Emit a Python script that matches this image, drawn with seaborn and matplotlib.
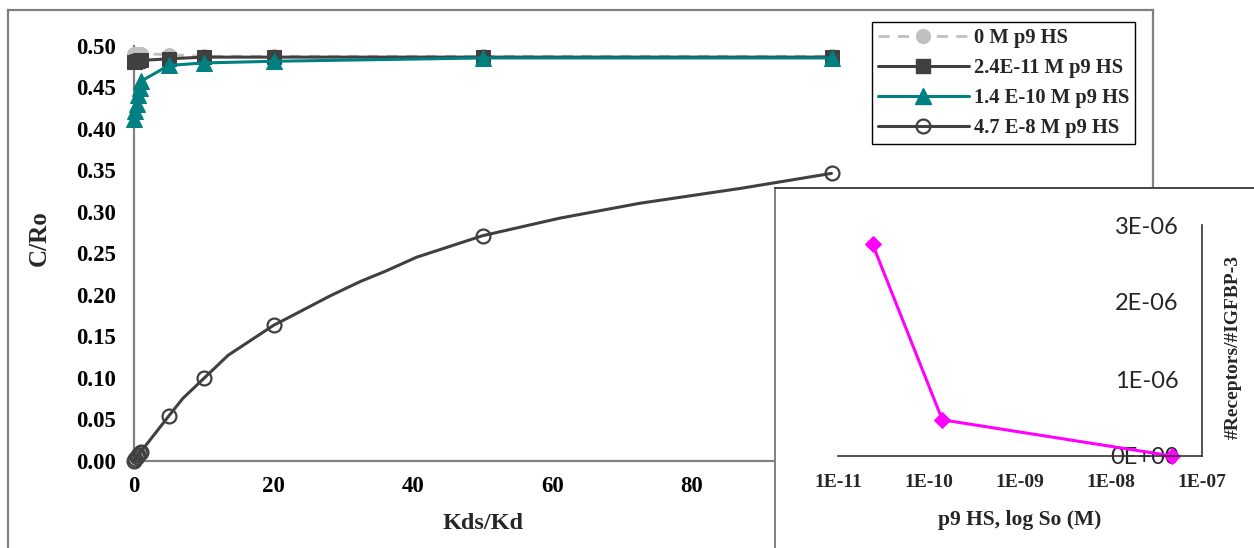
import matplotlib
matplotlib.use("Agg")
import matplotlib.pyplot as plt
import seaborn as sns
from matplotlib.lines import Line2D
from matplotlib.ticker import FixedLocator, FixedFormatter, NullLocator

# ---- main panel: fraction of receptors occupied vs Kds/Kd ----
kds = [0, 0.2, 0.4, 0.6, 0.8, 1, 5, 10, 20, 50, 100]
c_0M = [0.490, 0.490, 0.490, 0.490, 0.490, 0.490, 0.489, 0.487, 0.487, 0.487, 0.487]
c_24e11 = [0.480, 0.480, 0.481, 0.481, 0.482, 0.482, 0.484, 0.486, 0.486, 0.486, 0.486]
c_14e10 = [0.412, 0.421, 0.430, 0.440, 0.449, 0.457, 0.476, 0.479, 0.481, 0.485, 0.485]
c_47e8 = [0.000, 0.002, 0.004, 0.007, 0.009, 0.011, 0.054, 0.099, 0.163, 0.271, 0.346]

# smoothed trace drawn through the 4.7E-8 M points
curve_kds = [0, 0.2, 0.4, 0.6, 0.8, 1, 5, 7, 10, 13.5, 20, 23, 28, 32.5, 36, 40.5,
             50, 61, 72.5, 87, 100]
curve_c = [0.000, 0.002, 0.004, 0.007, 0.009, 0.011, 0.054, 0.075, 0.099, 0.127,
           0.163, 0.176, 0.198, 0.216, 0.228, 0.245, 0.271, 0.292, 0.310, 0.328, 0.346]

series_labels = ["0 M p9 HS", "2.4E-11 M p9 HS", "1.4 E-10 M p9 HS", "4.7 E-8 M p9 HS"]
main_xticks = [0, 20, 40, 60, 80, 100, 120]
main_xlabels = ["0", "20", "40", "60", "80", "", ""]
main_yticks = [0.00, 0.05, 0.10, 0.15, 0.20, 0.25, 0.30, 0.35, 0.40, 0.45, 0.50]

# ---- inset: receptors per IGFBP-3 vs p9 HS concentration ----
so_conc = [2.4e-11, 1.4e-10, 4.7e-8]
receptor_ratio = [2.75e-6, 0.47e-6, 0.0]
inset_xticks = [1e-11, 1e-10, 1e-9, 1e-8, 1e-7]
inset_xlabels = ["1E-11", "1E-10", "1E-09", "1E-08", "1E-07"]
inset_yticks = [0, 1e-6, 2e-6, 3e-6]
inset_ylabels = ["0E+00", "1E-06", "2E-06", "3E-06"]

sns.set_theme(style="white")
plt.rcParams["font.family"] = ["Liberation Serif", "DejaVu Serif"]
plt.rcParams["font.weight"] = "bold"

W, H = 1254, 548
fig = plt.figure(figsize=(W / 100, H / 100), dpi=100)
fig.patch.set_facecolor("white")


def fx(px):
    return px / W


def fy(py):
    return 1 - py / H


# outer chart frame
frame = fig.add_axes([fx(8), -0.05, fx(1153) - fx(8), fy(10) + 0.05])
frame.set_xticks([])
frame.set_yticks([])
for side in ("left", "top", "right"):
    frame.spines[side].set_color("#808080")
    frame.spines[side].set_linewidth(1.6)
frame.spines["bottom"].set_visible(False)

# main axes
ax = fig.add_axes([fx(134), fy(460.7), fx(971) - fx(134), fy(45.5) - fy(460.7)])
ax.patch.set_alpha(0)

dark = "#404040"
teal = "#008080"
light = "#c0c0c0"

styles = [
    dict(color=light, linestyle=(0, (4, 3)), linewidth=2.0, marker="o",
         markersize=10, markerfacecolor=light, markeredgecolor=light),
    dict(color=dark, linestyle="-", linewidth=2.2, marker="s",
         markersize=10.5, markerfacecolor=dark, markeredgecolor=dark),
    dict(color=teal, linestyle="-", linewidth=2.2, marker="^",
         markersize=11, markerfacecolor=teal, markeredgecolor=teal),
    dict(color=dark, linestyle="-", linewidth=2.2, marker="o",
         markersize=10, markerfacecolor="none", markeredgecolor=dark,
         markeredgewidth=1.6),
]

for yvals, st in zip([c_0M, c_24e11, c_14e10], styles[:3]):
    sns.lineplot(x=kds, y=yvals, ax=ax, estimator=None, sort=False,
                 clip_on=False, zorder=3, legend=False, **st)

marker_idx = [i for i, k in enumerate(curve_kds) if k in kds]
sns.lineplot(x=curve_kds, y=curve_c, ax=ax, estimator=None, sort=False,
             clip_on=False, zorder=3, legend=False, markevery=marker_idx,
             **styles[3])

ax.set_xlim(0, 120)
ax.set_ylim(0, 0.5)
ax.xaxis.set_major_locator(FixedLocator(main_xticks))
ax.yaxis.set_major_locator(FixedLocator(main_yticks))
ax.set_xticklabels(main_xlabels)
ax.set_yticklabels([f"{v:.2f}" for v in main_yticks])
for side in ("top", "right"):
    ax.spines[side].set_visible(False)
for side in ("left", "bottom"):
    ax.spines[side].set_color("#808080")
    ax.spines[side].set_linewidth(1.6)
ax.tick_params(axis="both", which="major", direction="inout", length=8,
               width=1.2, color="#555555", labelsize=16.5, labelcolor="black")
ax.tick_params(axis="x", pad=7)
ax.tick_params(axis="y", pad=9)
ax.set_xlabel("Kds/Kd", fontsize=17.5, fontweight="bold")
ax.set_ylabel("C/Ro", fontsize=18, fontweight="bold")
ax.xaxis.set_label_coords((483 - 134) / 837, -(513 - 460.7) / 415.2)
ax.yaxis.set_label_coords((51 - 134) / 837, (460.7 - 238) / 415.2)

handles = [Line2D([], [], **st) for st in styles]
fig.legend(handles, series_labels, loc="upper left",
           bbox_to_anchor=(fx(872), fy(22)), borderaxespad=0,
           frameon=True, fancybox=False, edgecolor="black", framealpha=1,
           handlelength=4.4, handletextpad=0.25, labelspacing=0.48,
           borderpad=0.3, prop=dict(family="Liberation Serif", weight="bold", size=14.8))

# inset frame
ibox = fig.add_axes([fx(775), -0.05, 1.05 - fx(775), fy(188) + 0.05])
ibox.set_facecolor("white")
ibox.set_xticks([])
ibox.set_yticks([])
ibox.spines["left"].set_color("#808080")
ibox.spines["top"].set_color("#444444")
for side in ("left", "top"):
    ibox.spines[side].set_linewidth(1.4)
for side in ("right", "bottom"):
    ibox.spines[side].set_visible(False)

# inset axes
ins = fig.add_axes([fx(838), fy(456), fx(1202) - fx(838), fy(225) - fy(456)])
ins.patch.set_alpha(0)
sns.lineplot(x=so_conc, y=receptor_ratio, ax=ins, estimator=None, sort=False,
             color="#ff00ff", linewidth=2.2, marker="D", markersize=8,
             markerfacecolor="#ff00ff", markeredgecolor="#ff00ff",
             clip_on=False, zorder=2, legend=False)
ins.set_xscale("log")
ins.set_xlim(1e-11, 1e-7)
ins.set_ylim(0, 3e-6)
ins.xaxis.set_major_locator(FixedLocator(inset_xticks))
ins.xaxis.set_major_formatter(FixedFormatter(inset_xlabels))
ins.xaxis.set_minor_locator(NullLocator())
ins.yaxis.set_major_locator(FixedLocator(inset_yticks))
ins.yaxis.set_major_formatter(FixedFormatter(inset_ylabels))
ins.spines["top"].set_visible(False)
ins.spines["right"].set_visible(False)
ins.spines["left"].set_position(("axes", 1.0))
for side in ("left", "bottom"):
    ins.spines[side].set_color("#333333")
    ins.spines[side].set_linewidth(1.2)
ins.tick_params(axis="x", direction="inout", length=8, width=1.1,
                color="#333333", labelsize=14, pad=9)
ins.tick_params(axis="y", direction="out", length=6, width=1.1,
                color="#333333", pad=11)
for lab in ins.get_yticklabels():
    lab.set_fontfamily("Lato")
    lab.set_fontweight("normal")
    lab.set_fontsize(17)
ins.set_xlabel("p9 HS, log So (M)", fontsize=15.5, fontweight="bold")
ins.xaxis.set_label_coords(0.5, -(510 - 456) / 231)
ins.set_ylabel("#Receptors/#IGFBP-3", fontsize=14, fontweight="bold")
ins.yaxis.set_label_position("right")
ins.yaxis.set_label_coords((1225 - 838) / 364, (456 - 347) / 231)

fig.savefig("out.png", dpi=100, facecolor="white")
